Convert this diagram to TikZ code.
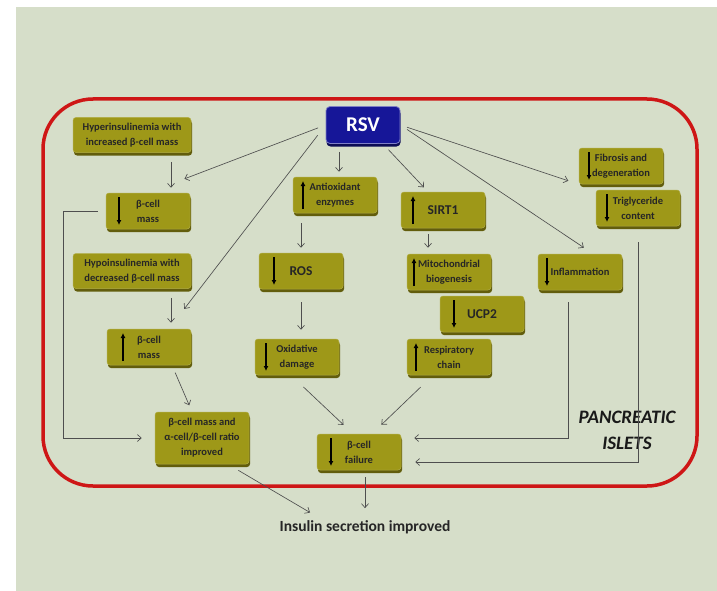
\documentclass[tikz,border=0pt]{standalone}
\usepackage{fontspec}
\setmainfont{Carlito}
\usetikzlibrary{arrows.meta,shadows}
\definecolor{PageClr}{RGB}{214,222,201}
\definecolor{BoxClr}{RGB}{158,152,24}
\definecolor{BoxDark}{RGB}{98,93,12}
\definecolor{RsvClr}{RGB}{22,22,152}
\definecolor{IsletClr}{RGB}{206,22,22}
\definecolor{LinkClr}{RGB}{78,78,78}

\begin{document}
\begin{tikzpicture}[x=1pt,y=-1pt,
  >={Straight Barb[length=4pt,width=7pt]},
  cellbox/.style={rectangle,rounded corners=3pt,fill=BoxClr,draw=BoxClr!80!white,line width=0.5pt,
    minimum width=84pt,minimum height=36pt,inner sep=1pt,align=center,text=black!85,
    font=\bfseries\fontsize{10.5}{15}\selectfont,
    drop shadow={shadow xshift=1pt,shadow yshift=-3pt,fill=BoxDark,opacity=1}},
  inarrow/.style={-{Latex[length=5pt,width=5pt]},line width=1.2pt,black},
  fallbox/.style={cellbox,path picture={\draw[inarrow] ([xshift=#1,yshift=-4pt]path picture bounding box.north west) -- ([xshift=#1,yshift=4pt]path picture bounding box.south west);}},
  fallbox/.default=12pt,
  risebox/.style={cellbox,path picture={\draw[inarrow] ([xshift=#1,yshift=4pt]path picture bounding box.south west) -- ([xshift=#1,yshift=-4pt]path picture bounding box.north west);}},
  risebox/.default=12pt,
  bigtxt/.style={font=\bfseries\fontsize{13.5}{15}\selectfont},
  conn/.style={->,draw=LinkClr,line width=0.65pt}]

\useasboundingbox (0,0) rectangle (717,591);
\fill[PageClr] (16,7) rectangle (717,591);

% islet frame
\draw[IsletClr,line width=3.5pt,rounded corners=50pt] (43,99) rectangle (697,486);

% resveratrol
\node[rectangle,rounded corners=4pt,fill=RsvClr,draw=RsvClr!55!white,line width=0.8pt,
  minimum width=74pt,minimum height=37pt,text=white,font=\bfseries\fontsize{21}{21}\selectfont,
  drop shadow={shadow xshift=0.5pt,shadow yshift=-3pt,fill=RsvClr!55!black,opacity=1}]
  (rsv) at (363,125) {RSV};

% beta-cell mass column
\node[cellbox,minimum width=118pt,minimum height=35pt] (hyper) at (132,135) {Hyperinsulinemia with\\increased β-cell mass};
\node[fallbox=13pt] (bdown) at (148,211) {β-cell\\mass};
\node[cellbox,minimum width=118pt,minimum height=35pt] (hypo) at (132,271) {Hypoinsulinemia with\\decreased β-cell mass};
\node[risebox=16pt] (bup) at (149,347) {β-cell\\mass};
\node[cellbox,minimum width=94pt,minimum height=52pt] (improved) at (202,438) {β-cell mass and\\α-cell/β-cell ratio\\improved};

% oxidative stress column
\node[risebox=10pt] (antiox) at (335,195) {Antioxidant\\enzymes};
\node[fallbox=15pt,bigtxt] (ros) at (301,271) {ROS};
\node[fallbox=11pt] (oxid) at (297,357) {Oxidative\\damage};

% sirtuin column
\node[risebox=12pt,bigtxt] (sirt) at (443,210) {SIRT1};
\node[risebox=7pt] (mito) at (449,272) {Mitochondrial\\biogenesis};
\node[fallbox=14pt,bigtxt] (ucp) at (482,314) {UCP2};
\node[risebox=9pt] (resp) at (449,357) {Respiratory\\chain};
\node[fallbox=14pt] (fail) at (359,452) {β-cell\\failure};

% right column
\node[fallbox=10pt] (fibro) at (621,166) {Fibrosis and\\degeneration};
\node[fallbox=11pt] (trig) at (638,208) {Triglyceride\\content};
\node[fallbox=9pt] (infl) at (580,272) {Inflammation};

\node[align=center,text=black!90,font=\bfseries\itshape\fontsize{19}{26}\selectfont] (islets) at (627,430) {PANCREATIC\\ISLETS};
\node[inner sep=0pt,text=black!85,font=\bfseries\fontsize{15.5}{16}\selectfont] (insulin) at (365,527) {Insulin secretion improved};

% connectors
\draw[conn,shorten <=8pt,shorten >=39pt] (rsv.west) -- (bdown.north);
\draw[conn,shorten <=13pt,shorten >=25pt] (rsv.west) -- ([xshift=20pt]bup.north);
\draw[conn,shorten <=8pt,shorten >=5pt] ([xshift=-24pt]rsv.south) -- ([xshift=4pt]antiox.north);
\draw[conn,shorten <=8pt,shorten >=6pt] ([xshift=20pt]rsv.south) -- ([xshift=-15pt]sirt.north);
\draw[conn,shorten <=7pt,shorten >=11pt] (rsv.east) -- (fibro.south west);
\draw[conn,shorten <=8pt,shorten >=11pt] (rsv.east) -- ([xshift=13pt]infl.north);

\draw[conn,shorten <=9pt,shorten >=5pt] ([xshift=39pt]hyper.south) -- ([xshift=23pt]bdown.north);
\draw[conn,shorten <=9pt,shorten >=6pt] ([xshift=39pt]hypo.south) -- ([xshift=22pt]bup.north);
\draw[conn,shorten <=8pt,shorten >=7pt] ([xshift=23pt]bup.south) -- ([xshift=-10pt]improved.north);
\draw[conn,shorten <=8pt,shorten >=13pt] (bdown.west) -- ++(-42,0) |- (improved.west);

\draw[conn,shorten <=10pt,shorten >=5pt] (ros.north |- antiox.south) -- (ros.north);
\draw[conn,shorten <=13pt,shorten >=9pt] (ros.south) -- (ros.south |- oxid.north);
\draw[conn,shorten <=6pt,shorten >=6pt] ([xshift=-15pt]sirt.south) -- ([xshift=-21pt]mito.north);
\draw[conn,shorten <=17pt,shorten >=13pt] ([xshift=-6pt]oxid.south) -- ([xshift=-6pt]fail.north);
\draw[conn,shorten <=17pt,shorten >=13pt] ([xshift=-16pt]resp.south) -- ([xshift=13pt]fail.north);
\draw[conn,shorten <=12pt,shorten >=13pt] ([xshift=-12pt]infl.south) |- ([yshift=14pt]fail.east);
\draw[conn,shorten <=16pt,shorten >=14pt] (trig.south) |- ([yshift=-10pt]fail.east);

\draw[conn,<-,shorten <=12pt,shorten >=7pt] (insulin.north) -- (insulin.north |- fail.south);
\draw[conn,shorten <=12pt,shorten >=15pt] ([xshift=26pt]improved.south) -- ([xshift=-42pt]insulin.north);

\end{tikzpicture}
\end{document}
